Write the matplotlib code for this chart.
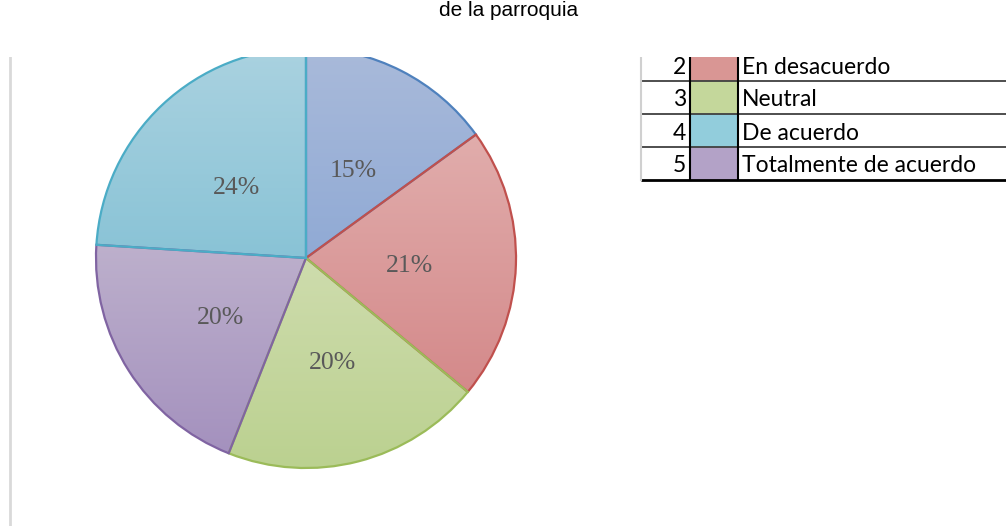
import numpy as np
import matplotlib
matplotlib.use("Agg")
import matplotlib.pyplot as plt
from matplotlib.colors import to_rgb
from matplotlib.patches import Rectangle

# legend rows (Likert scale), in table order
codes = [1, 2, 3, 4, 5]
labels = ["Totalmente en desacuerdo", "En desacuerdo", "Neutral",
          "De acuerdo", "Totalmente de acuerdo"]
percent = [15, 21, 20, 24, 20]
# order of the slices, clockwise from the top
pie_order = [0, 1, 2, 4, 3]

swatch = ["#95B3D7", "#D99694", "#C4D79B", "#92CDDC", "#B3A2C7"]
edge = ["#4F81BD", "#C0504D", "#9BBB59", "#4BACC6", "#8064A2"]
grad_top = ["#A9BADA", "#E1ADAC", "#CEDCAD", "#AAD2E0", "#BDB0CC"]
grad_bot = ["#90AAD5", "#D4898A", "#BBD190", "#89C3D6", "#A491BE"]

W, H = 1006, 526
top_clip = 57

fig = plt.figure(figsize=(W / 100, H / 100), dpi=100)
ax = fig.add_axes([0, 0, 1, (H - top_clip) / H])
ax.set_axis_off()

# pie, y in data = H - pixel row
vals = [percent[i] for i in pie_order]
wedges, texts, autotexts = ax.pie(
    vals, startangle=90, counterclock=False, center=(306, H - 258), radius=210,
    autopct="%d%%", pctdistance=0.49, frame=True,
    wedgeprops=dict(linewidth=1.6),
    textprops=dict(fontsize=18.5, family="Liberation Serif", color="#595959"))

for w, i in zip(wedges, pie_order):
    w.set_facecolor("none")
    w.set_edgecolor(edge[i])
    w.set_zorder(3)
    w.set_clip_on(True)
    w.set_clip_box(ax.bbox)
    bb = w.get_path().get_extents(w.get_patch_transform())
    c0, c1 = np.array(to_rgb(grad_bot[i])), np.array(to_rgb(grad_top[i]))
    t = np.linspace(0, 1, 256)[:, None, None]
    img = c0 + (c1 - c0) * t
    im = ax.imshow(img, extent=[bb.x0, bb.x1, bb.y0, bb.y1], origin="lower",
                   aspect="auto", zorder=2, interpolation="bilinear")
    im.set_clip_path(w)
    im.set_clip_box(ax.bbox)
for t in autotexts:
    t.set_zorder(4)
    x, y = t.get_position()
    t.set_position((x + 1, y - 5))

# table legend (the first row sits above the cut of the screenshot)
row_h = 33
first_top = 15
x_left, x_mid, x_txt, x_right = 641, 690, 738, W
for k, (code, lab) in enumerate(zip(codes, labels)):
    top = H - (first_top + row_h * k)
    bot = top - row_h
    ax.add_patch(Rectangle((x_mid, bot), x_txt - x_mid, row_h,
                           facecolor=swatch[k], edgecolor="none", zorder=2))
    lw = 2.0 if k == len(codes) - 1 else 1.3
    lc = "#000000" if k == len(codes) - 1 else "#404040"
    ax.plot([x_left, x_right], [bot, bot], color=lc, lw=lw, zorder=3,
            solid_capstyle="butt")
    if bot > H - top_clip:
        continue  # row hidden by the cut
    ax.text(686, (top + bot) / 2 - 2.5, str(code), ha="right", va="center",
            fontsize=16.5, family="Lato", color="#000000", clip_on=True)
    ax.text(x_txt + 4, (top + bot) / 2 - 2.5, lab, ha="left", va="center",
            fontsize=16.5, family="Lato", color="#000000", clip_on=True)

tab_top = H - first_top
tab_bot = H - (first_top + row_h * len(codes))
ax.plot([x_left, x_left], [tab_bot, tab_top], color="#D0D0D0", lw=1.5, zorder=3)
for x in (x_mid, x_txt):
    ax.plot([x, x], [tab_bot, tab_top], color="#000000", lw=1.5, zorder=3)

# grey frame line on the left
ax.plot([10, 10], [0, H], color="#D9D9D9", lw=2, zorder=1)

ax.set_xlim(0, W)
ax.set_ylim(0, H - top_clip)
ax.set_aspect("auto")

# white band above the cut, then the (cut) title
fig.patches.append(Rectangle((0, (H - top_clip) / H), 1, top_clip / H,
                             transform=fig.transFigure, facecolor="white",
                             edgecolor="none", zorder=10))
fig.text(508.5 / W, 1 - 16 / H, "de la parroquia", ha="center", va="baseline",
         fontsize=15, family="Liberation Sans", color="#000000", zorder=11)

fig.savefig("out.png", dpi=100)
